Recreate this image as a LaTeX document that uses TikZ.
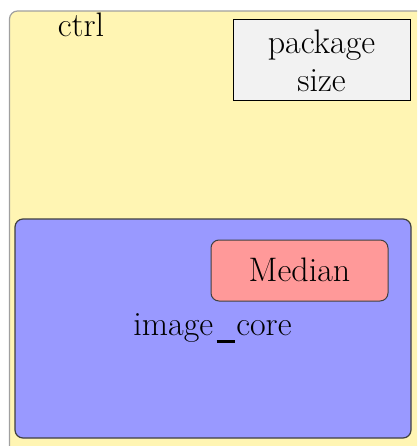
\documentclass[tikz,border=0pt]{standalone}
\usepackage{fontspec}
\definecolor{ctrlfill}{HTML}{FFF5B3}
\definecolor{ctrlline}{HTML}{A0A0A0}
\definecolor{corefill}{HTML}{9999FF}
\definecolor{medfill}{HTML}{FF9999}
\definecolor{pkgfill}{HTML}{F2F2F2}
\newcommand{\lowbar}{\kern0.1em\rule[-0.2em]{0.53em}{0.06em}\kern0.05em}
\begin{document}
\begin{tikzpicture}[x=1pt,y=-1pt,
  lbl/.style={font=\fontsize{34}{38.5}\selectfont, inner sep=0pt, anchor=base, align=center},
  groupbox/.style={rounded corners=8pt, line width=1.2pt},
]
\useasboundingbox (0,0) rectangle (417,446);
\clip (0,0) rectangle (417,446);
% outer ctrl group, running past the right and bottom edges
\draw[groupbox, fill=ctrlfill, draw=ctrlline] (9.5,11) rectangle (440,470);
\node[lbl] (ctrl) at (81,37) {ctrl};
% package size box
\node[draw=black, fill=pkgfill, line width=1pt, minimum width=177pt, minimum height=81pt, inner sep=0pt] (pkg) at (321.5,60.5) {};
\node[lbl] (pkgtext) at (321.5,92) {package\\size};
% image_core group
\draw[groupbox, fill=corefill, draw=black!75] (15,219) rectangle (411,438);
\node[lbl] (core) at (212.5,335.7) {image\lowbar core};
% Median node
\node[draw=black!75, fill=medfill, rounded corners=8pt, line width=1pt, minimum width=177pt, minimum height=61pt, inner sep=0pt] (median) at (299.5,270.5) {};
\node[lbl] (medtext) at (299.5,281.7) {Median};
\end{tikzpicture}
\end{document}
